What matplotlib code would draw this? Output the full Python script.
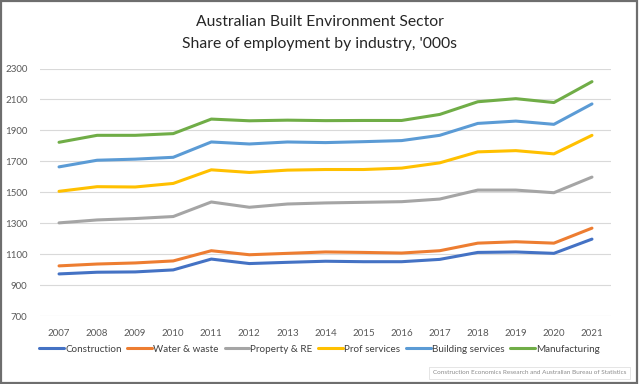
import matplotlib
matplotlib.use("Agg")
import matplotlib.pyplot as plt
from matplotlib.patches import Rectangle

plt.rcParams['font.family'] = ['Lato', 'DejaVu Sans']

years = [2007, 2008, 2009, 2010, 2011, 2012, 2013, 2014, 2015, 2016, 2017, 2018, 2019, 2020, 2021]
construction = [972, 983, 985, 998, 1068, 1039, 1047, 1054, 1051, 1051, 1066, 1111, 1114, 1105, 1197]
water_waste = [1024, 1036, 1043, 1056, 1122, 1096, 1105, 1114, 1111, 1107, 1122, 1171, 1180, 1171, 1268]
property_re = [1302, 1321, 1330, 1343, 1437, 1403, 1424, 1431, 1435, 1439, 1456, 1514, 1514, 1497, 1598]
prof_services = [1506, 1536, 1534, 1557, 1645, 1628, 1643, 1647, 1647, 1656, 1690, 1761, 1769, 1748, 1868]
building_services = [1664, 1707, 1714, 1726, 1825, 1812, 1825, 1821, 1827, 1834, 1868, 1945, 1960, 1939, 2071]
manufacturing = [1823, 1868, 1868, 1879, 1973, 1962, 1966, 1963, 1964, 1964, 2003, 2085, 2105, 2080, 2215]

series_names = ["Construction", "Water & waste", "Property & RE", "Prof services",
                "Building services", "Manufacturing"]
series_values = [construction, water_waste, property_re, prof_services,
                 building_services, manufacturing]
colors = ["#4472C4", "#ED7D31", "#A5A5A5", "#FFC000", "#5B9BD5", "#70AD47"]
yticks = [700, 900, 1100, 1300, 1500, 1700, 1900, 2100, 2300]

fig = plt.figure(figsize=(6.39, 3.84), dpi=100)
ax = fig.add_axes([40/639, 1-316/384, 571/639, (316-68.5)/384])

for name, vals, c in zip(series_names, series_values, colors):
    ax.plot(years, vals, color=c, lw=2.2, label=name, solid_capstyle='round')

ax.set_ylim(700, 2300)
ax.set_xlim(2006.5, 2021.5)
ax.set_yticks(yticks)
ax.set_xticks(years)
ax.set_xticklabels([str(y) for y in years])
ax.grid(axis='y', color='#D9D9D9', lw=0.8)
ax.set_axisbelow(True)
for s in ax.spines.values():
    s.set_visible(False)
ax.tick_params(axis='both', length=0, labelsize=7, colors='#595959')
ax.tick_params(axis='x', pad=9)
ax.tick_params(axis='y', pad=9)

fig.text(0.5, 1-22/384, "Australian Built Environment Sector", ha='center', va='center',
         fontsize=11.3, color='#262626')
fig.text(0.5, 1-44/384, "Share of employment by industry, '000s", ha='center', va='center',
         fontsize=11.3, color='#262626')

leg = fig.legend(loc='center', bbox_to_anchor=(0.5, 1-349/384), ncol=6, frameon=False,
                 fontsize=7.1, handlelength=2.5, handletextpad=0.1, columnspacing=0.6,
                 labelcolor='#404040')

fig.text(626/639, 1-373/384, "Construction Economics Research and Australian Bureau of Statistics",
         ha='right', va='center', fontsize=4.6, color='#8c8c8c',
         bbox=dict(boxstyle='square,pad=0.6', fc='white', ec='#E0E0E0', lw=0.6))

fig.patches.append(Rectangle((0.002, 0.003), 0.995, 0.994, transform=fig.transFigure,
                             fill=False, ec='#6e6e6e', lw=1.6))

fig.savefig("out.png", dpi=100)
